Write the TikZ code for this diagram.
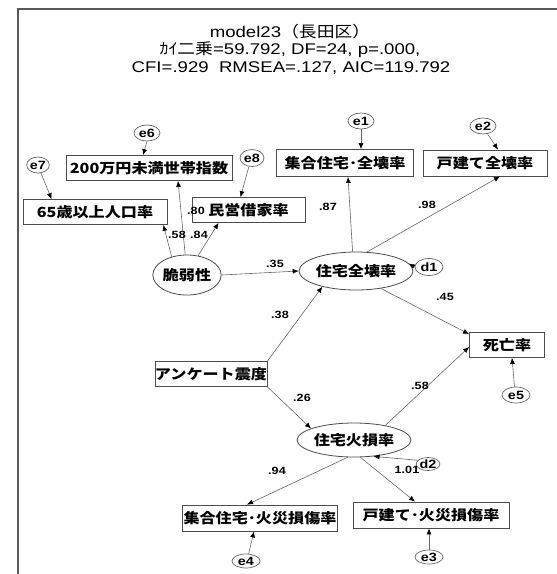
\documentclass[tikz,border=0pt]{standalone}
\usepackage{fontspec}
\setmainfont{Liberation Sans}[FakeStretch=1.2]
\newfontfamily\jp{Noto Sans CJK JP}[FakeStretch=1.15]
\usetikzlibrary{shapes.geometric,arrows.meta,calc}
\tikzset{
  framel/.style={draw=black!65, line width=1.6pt},
  box/.style={draw=black!70, line width=0.8pt, rectangle, inner sep=0pt, minimum height=25pt,
    font=\jp\bfseries\fontsize{14}{16}\selectfont},
  lat/.style={draw=black!70, line width=0.8pt, ellipse, inner sep=0pt,
    font=\jp\bfseries\fontsize{14}{16}\selectfont},
  err/.style={draw=black!60, line width=0.7pt, ellipse, inner sep=0pt, minimum width=26pt, minimum height=16pt,
    font=\bfseries\fontsize{12}{14}\selectfont},
  lab/.style={inner sep=0pt, font=\bfseries\fontsize{10.5}{12}\selectfont},
  ttl/.style={inner sep=0pt, font=\fontsize{15.5}{18}\selectfont},
  arr/.style={draw=black!60, line width=0.6pt, -{Latex[length=6pt,width=5pt,color=black]}}
}
\begin{document}
\begin{tikzpicture}[x=1pt,y=-1pt]
\useasboundingbox (0,0) rectangle (557,574);
\fill[white] (0,0) rectangle (557,574);
\draw[framel] (557,9) -- (18,9) -- (18,574);

% title
\node[ttl] (t1) at (290,32) {model23{\jp（長田区）}};
\node[ttl] (t2) at (290,50) {{\jp ｶｲ二乗}=59.792, DF=24, p=.000,};
\node[ttl] (t3) at (291,68) {CFI=.929\ \ RMSEA=.127, AIC=119.792};

% observed variables
\node[box, minimum width=166pt] (box200) at (149,168) {200万円未満世帯指数};
\node[box, minimum width=144pt] (box65) at (95,212) {65歳以上人口率};
\node[box, minimum width=113pt] (boxmin) at (248.5,210) {民営借家率};
\node[box, minimum width=137pt, minimum height=27pt] (boxsg) at (345,163) {集合住宅･全壊率};
\node[box, minimum width=124pt, minimum height=26pt] (boxkd) at (485,163) {戸建て全壊率};
\node[box, minimum width=75pt] (death) at (507,345) {死亡率};
\node[box, minimum width=104pt] (ank) at (211,374) {アンケート震度};
\node[box, minimum width=155pt, minimum height=26pt] (sgf) at (260,518) {集合住宅･火災損傷率};
\node[box, minimum width=156pt, minimum height=26pt] (kdf) at (431,515) {戸建て･火災損傷率};

% latent variables
\node[lat, minimum width=58pt, minimum height=40pt] (vul) at (187,275) {脆弱性};
\node[lat, minimum width=86pt, minimum height=38pt] (zhk) at (356,271) {住宅全壊率};
\node[lat, minimum width=88pt, minimum height=34pt] (zhs) at (354,440) {住宅火損率};

% error terms
\node[err] (e1) at (361,121) {e1};
\node[err] (e2) at (483,126) {e2};
\node[err] (e6) at (147,133) {e6};
\node[err, minimum width=22pt] (e7) at (38,165) {e7};
\node[err, minimum width=24pt, minimum height=17pt] (e8) at (252,158) {e8};
\node[err, minimum width=28pt, minimum height=17pt] (d1) at (429,267) {d1};
\node[err, minimum width=28pt] (e5) at (516,395) {e5};
\node[err, minimum width=22pt, minimum height=13pt] (d2) at (428,464) {d2};
\node[err, minimum width=28pt, minimum height=14pt] (e4) at (246,561) {e4};
\node[err, minimum width=28pt, minimum height=14pt] (e3) at (429,557) {e3};

% structural paths
\draw[arr] (vul.130) -- ([xshift=-4pt]box65.south east);
\draw[arr] (vul.95) -- ([xshift=29pt]box200.south);
\draw[arr] (vul.60) -- ([xshift=-30pt]boxmin.south);
\draw[arr] (vul.east) -- (zhk.west);
\draw[arr] (zhk.100) -- ([xshift=3pt]boxsg.south);
\draw[arr] (zhk.60) -- ([xshift=15pt]boxkd.south);
\draw[arr] (zhk.-35) -- ([yshift=-2pt]death.north west);
\draw[arr] (ank.north east) -- (zhk.205);
\draw[arr] (ank.south east) -- (zhs.165);
\draw[arr] (zhs.25) -- ([yshift=-2pt]death.west);
\draw[arr] (zhs.250) -- ([xshift=-13pt]sgf.north);
\draw[arr] (zhs.290) -- ([xshift=-16pt]kdf.north);

% error paths
\draw[arr] (e7.-70) -- ([xshift=29pt]box65.north west);
\draw[arr] (e6.south) -- ([xshift=-6pt]box200.north);
\draw[arr] (e8.250) -- ([xshift=-8pt]boxmin.north);
\draw[arr] (e1.south) -- (e1.south |- boxsg.north);
\draw[arr] (e2.-60) -- ([xshift=13pt]boxkd.north);
\draw[arr] (d1.west) -- (zhk.8);
\draw[arr] (e5.100) -- ([xshift=5pt]death.south);
\draw[arr] (d2.160) -- (zhs.-40);
\draw[arr] (e4.70) -- ([xshift=-6pt]sgf.south);
\draw[arr] (e3.north) -- ([xshift=-2pt]kdf.south);

% coefficients
\node[lab] (l58a) at (177,235) {.58};
\node[lab] (l84) at (199,235) {.84};
\node[lab] (l80) at (196,211) {.80};
\node[lab] (l35) at (275,264) {.35};
\node[lab] (l87) at (328,207) {.87};
\node[lab] (l98) at (427,205) {.98};
\node[lab] (l45) at (445,297) {.45};
\node[lab] (l38) at (280,315) {.38};
\node[lab] (l26) at (302,398) {.26};
\node[lab] (l58b) at (420,386) {.58};
\node[lab] (l94) at (277,471) {.94};
\node[lab] (l101) at (407,470) {1.01};
\end{tikzpicture}
\end{document}
